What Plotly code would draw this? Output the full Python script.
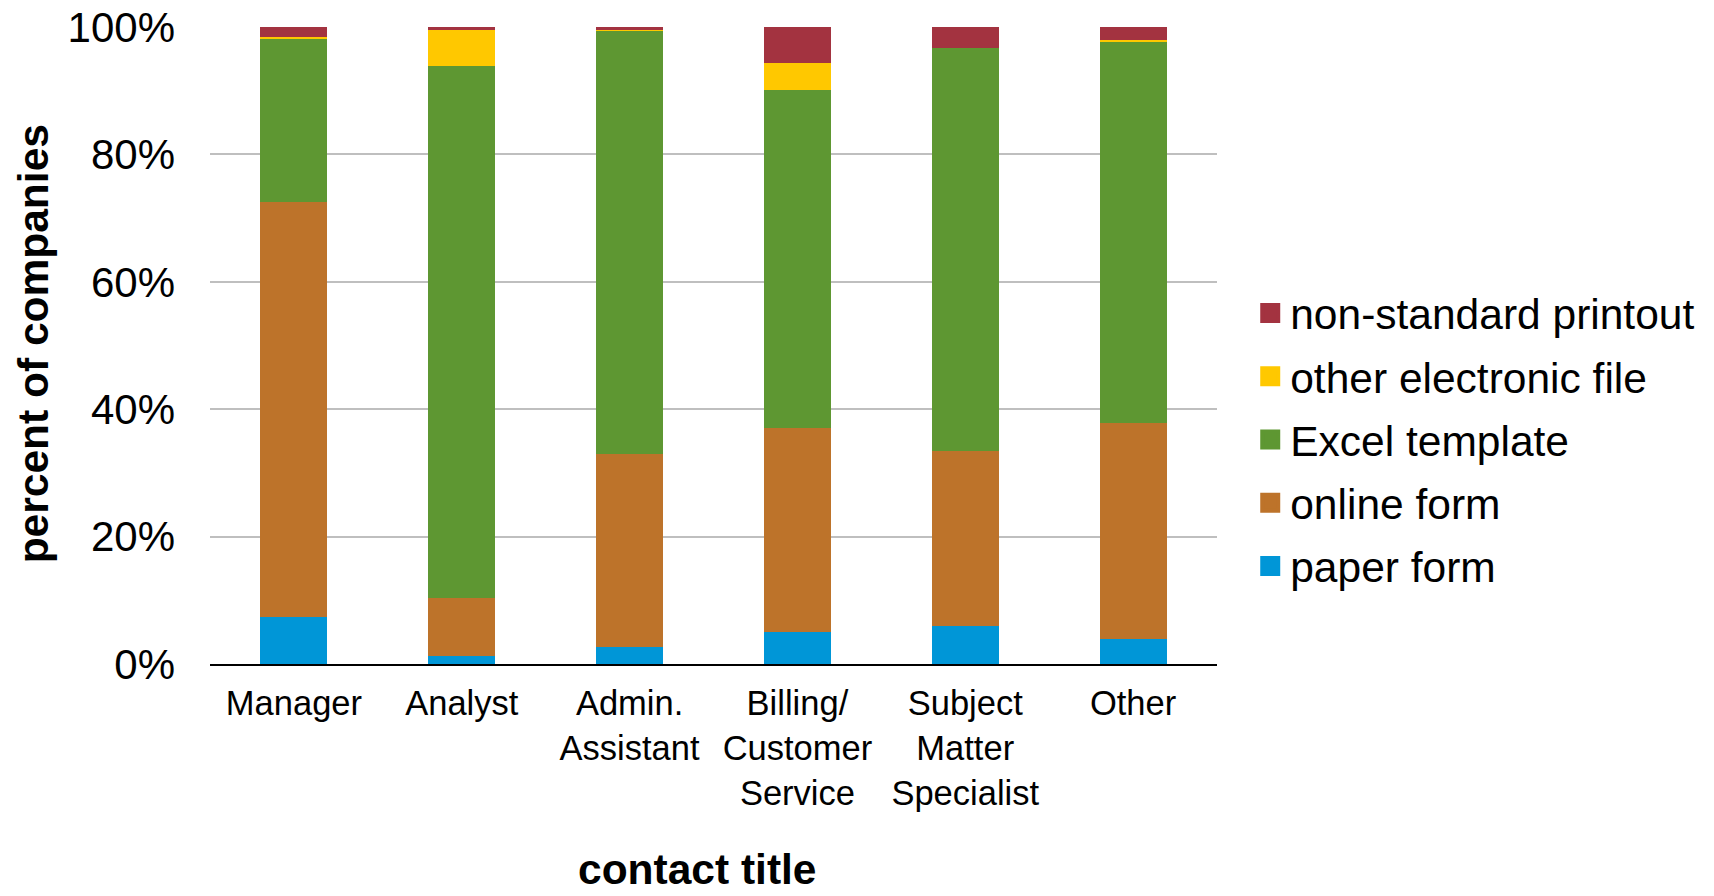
import plotly.graph_objects as go

# Contact titles and share of companies (%) by submission format
categories = ["Manager", "Analyst", "Admin.<br>Assistant", "Billing/<br>Customer<br>Service",
              "Subject<br>Matter<br>Specialist", "Other"]
paper_form = [7.4, 1.3, 2.6, 5.1, 5.9, 4.0]
online_form = [65.1, 9.0, 30.4, 31.9, 27.5, 33.9]
excel_template = [25.7, 83.5, 66.4, 53.1, 63.3, 59.8]
other_electronic_file = [0.3, 5.7, 0.2, 4.2, 0.0, 0.3]
non_standard_printout = [1.5, 0.5, 0.4, 5.7, 3.3, 2.0]

series = [
    ("paper form", paper_form, "#0096D7"),
    ("online form", online_form, "#BD732A"),
    ("Excel template", excel_template, "#5E9732"),
    ("other electronic file", other_electronic_file, "#FFC800"),
    ("non-standard printout", non_standard_printout, "#A33340"),
]

FONT = "Liberation Sans, Arial, sans-serif"

fig = go.Figure()
for name, vals, color in series:
    fig.add_trace(go.Bar(
        x=categories, y=vals, name=name, showlegend=False,
        marker=dict(color=color, line=dict(width=0)),
    ))

# Legend entries (top to bottom), drawn as square markers so the swatches are larger
for name, vals, color in reversed(series):
    fig.add_trace(go.Scatter(
        x=[None], y=[None], mode="markers", name=name, legendgroup=name,
        marker=dict(symbol="square", size=16, color=color, line=dict(width=4, color=color)),
    ))

fig.update_layout(
    width=1714, height=896,
    margin=dict(l=210, r=497, t=27, b=232),
    barmode="stack", bargap=0.6,
    plot_bgcolor="white", paper_bgcolor="white",
    font=dict(family=FONT, color="black"),
    legend=dict(
        x=1.033, xanchor="left", y=0.352, yanchor="middle",
        font=dict(size=42.5, family=FONT, color="black"),
        traceorder="grouped", tracegroupgap=5, itemwidth=30,
        bgcolor="rgba(0,0,0,0)",
    ),
    xaxis=dict(
        showline=True, linecolor="black", linewidth=2,
        tickfont=dict(size=34.5, family=FONT), ticks="", showgrid=False,
        ticklabelstandoff=8, automargin=False,
    ),
    yaxis=dict(
        range=[0, 100], tickvals=[0, 20, 40, 60, 80, 100],
        ticktext=["0%", "20%", "40%", "60%", "80%", "100%"],
        showgrid=True, gridcolor="#BFBFBF", gridwidth=1.5,
        showline=False, zeroline=False, ticks="",
        tickfont=dict(size=42, family=FONT), ticklabelstandoff=34, automargin=False,
    ),
    annotations=[
        dict(text="<b>contact title</b>", x=0.4846, y=-0.3625, xref="paper", yref="paper",
             xanchor="center", yanchor="bottom", showarrow=False,
             font=dict(size=42.5, family=FONT, color="black")),
        dict(text="<b>percent of companies</b>", x=-0.175, y=0.503, xref="paper", yref="paper",
             xanchor="center", yanchor="middle", showarrow=False, textangle=-90,
             font=dict(size=42.5, family=FONT, color="black")),
    ],
)

fig.write_html("out.html")
